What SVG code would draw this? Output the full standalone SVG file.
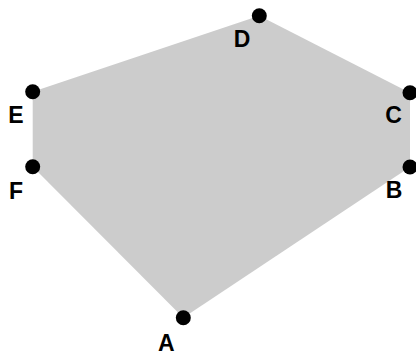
<svg xmlns="http://www.w3.org/2000/svg" width="416" height="353" viewBox="0 0 416 353">
<style>
.lbl{font-family:"Liberation Sans",Arial,sans-serif;font-weight:bold;font-size:23px;fill:#000;text-anchor:middle}
.pt{fill:#000}
</style>
<rect width="416" height="353" fill="#fff"/>
<g id="connectors">
<polygon points="259.3,15.7 410,92.7 410,167 183.3,317.7 32.7,166.7 32.7,91.7" fill="#cccccc" stroke="none"/>
</g>
<g id="D"><circle class="pt" cx="259.3" cy="15.7" r="7.5"/><text class="lbl" x="242" y="46.5">D</text></g>
<g id="C"><circle class="pt" cx="410" cy="92.7" r="7.5"/><text class="lbl" x="393.5" y="123.3">C</text></g>
<g id="B"><circle class="pt" cx="410" cy="167" r="7.5"/><text class="lbl" x="394" y="198.3">B</text></g>
<g id="A"><circle class="pt" cx="183.3" cy="317.7" r="7.5"/><text class="lbl" x="166.2" y="350.5">A</text></g>
<g id="F"><circle class="pt" cx="32.7" cy="166.7" r="7.5"/><text class="lbl" x="16" y="199">F</text></g>
<g id="E"><circle class="pt" cx="32.7" cy="91.7" r="7.5"/><text class="lbl" x="15.8" y="123.3">E</text></g>
</svg>
